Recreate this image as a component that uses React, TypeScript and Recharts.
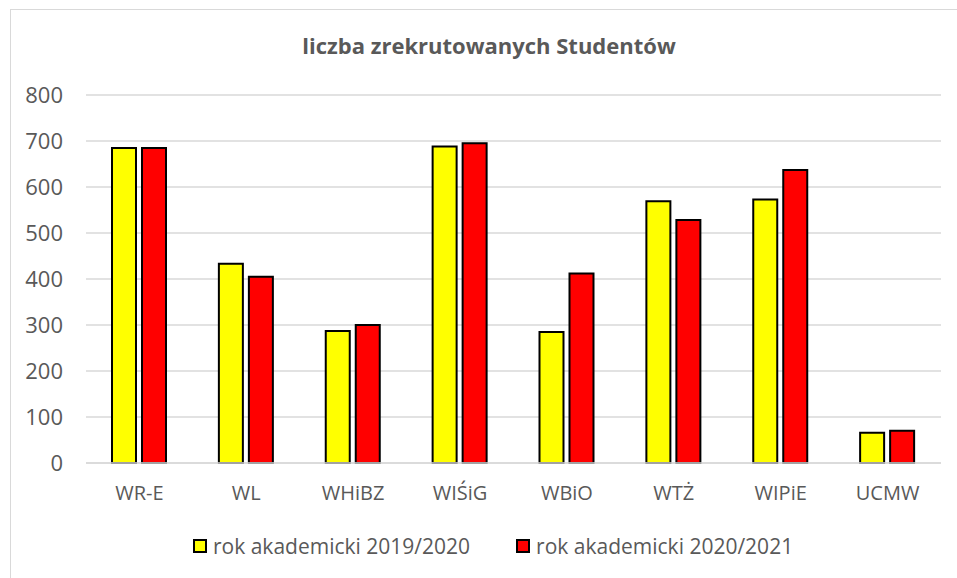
import React from "react";
import { BarChart, Bar, XAxis, YAxis, CartesianGrid } from "recharts";

const faculties = ["WR-E", "WL", "WHiBZ", "WIŚiG", "WBiO", "WTŻ", "WIPiE", "UCMW"];
const year2019 = [685, 433, 287, 688, 285, 569, 573, 66];
const year2020 = [685, 405, 300, 695, 412, 528, 637, 70];
const yTicks = [0, 100, 200, 300, 400, 500, 600, 700, 800];

const seriesNames = ["rok akademicki 2019/2020", "rok akademicki 2020/2021"];
const seriesColors = ["#FFFF00", "#FF0000"];

const data = faculties.map((name, i) => ({
  name,
  y2019: year2019[i],
  y2020: year2020[i],
}));

const FONT = "'Open Sans', 'DejaVu Sans', sans-serif";
const TEXT = "#595959";
const GRID = "#d9d9d9";

function LegendBox() {
  return (
    <div
      style={{
        position: "absolute",
        left: 193,
        top: 532,
        display: "flex",
        alignItems: "center",
        fontFamily: FONT,
        fontSize: 21,
        color: TEXT,
        whiteSpace: "nowrap",
      }}
    >
      {seriesNames.map((label, i) => (
        <div
          key={label}
          style={{ display: "flex", alignItems: "center", marginRight: i === 0 ? 46 : 0 }}
        >
          <span
            style={{
              display: "inline-block",
              width: 10,
              height: 10,
              background: seriesColors[i],
              border: "2px solid #000",
              marginRight: 6,
            }}
          />
          <span>{label}</span>
        </div>
      ))}
    </div>
  );
}

export default function App() {
  return (
    <div
      style={{
        position: "absolute",
        left: 0,
        top: 0,
        width: 957,
        height: 578,
        overflow: "hidden",
        background: "#fff",
      }}
    >
      <div
        style={{
          position: "absolute",
          left: 10,
          top: 9,
          width: 980,
          height: 600,
          border: `1px solid ${GRID}`,
        }}
      />
      <div
        style={{
          position: "absolute",
          left: 0,
          top: 30,
          width: 978,
          textAlign: "center",
          fontFamily: FONT,
          fontWeight: 700,
          fontSize: 22,
          color: TEXT,
        }}
      >
        liczba zrekrutowanych Studentów
      </div>
      <div style={{ position: "absolute", left: 0, top: 0 }}>
        <BarChart
          width={957}
          height={578}
          data={data}
          margin={{ top: 95, right: 16, left: 0, bottom: 75 }}
          barSize={24}
          barGap={6}
        >
          <CartesianGrid vertical={false} stroke={GRID} strokeWidth={1.5} />
          <XAxis
            dataKey="name"
            height={40}
            axisLine={{ stroke: GRID, strokeWidth: 1.5 }}
            tickLine={false}
            tickSize={0}
            tickMargin={23}
            tick={{ fill: TEXT, fontSize: 20, fontFamily: FONT }}
          />
          <YAxis
            width={86}
            domain={[0, 800]}
            ticks={yTicks}
            axisLine={false}
            tickLine={false}
            tickSize={0}
            tickMargin={23}
            tick={{ fill: TEXT, fontSize: 22, fontFamily: FONT }}
          />
          <Bar
            dataKey="y2019"
            name={seriesNames[0]}
            fill={seriesColors[0]}
            stroke="#000"
            strokeWidth={2}
            isAnimationActive={false}
          />
          <Bar
            dataKey="y2020"
            name={seriesNames[1]}
            fill={seriesColors[1]}
            stroke="#000"
            strokeWidth={2}
            isAnimationActive={false}
          />
        </BarChart>
      </div>
      <LegendBox />
    </div>
  );
}
